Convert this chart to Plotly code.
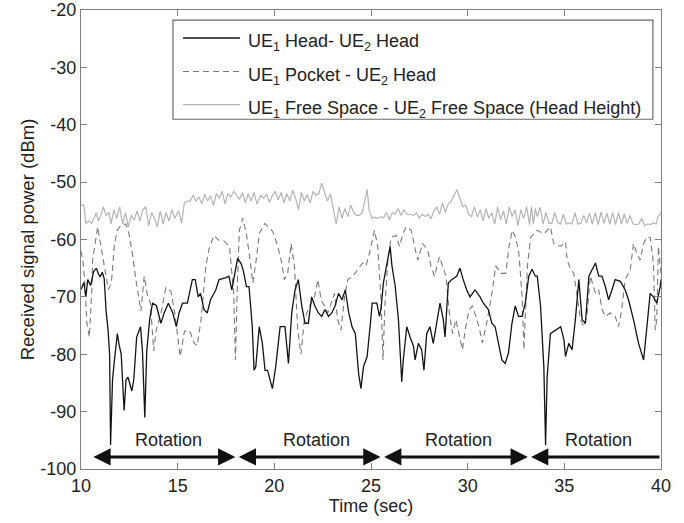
import plotly.graph_objects as go

# ---------------- data ----------------
head = [(10.0,-68.7),(10.15,-67.5),(10.25,-70),(10.35,-67),(10.5,-68),(10.65,-65.6),(10.8,-65),(10.9,-66),
        (11.0,-66.5),(11.1,-65.7),(11.2,-66.8),(11.3,-72.5),(11.4,-75.8),(11.48,-80),(11.53,-95.8),(11.63,-84.5),
        (11.73,-81),(11.88,-76.4),(11.98,-78.5),(12.08,-80),(12.23,-89.8),(12.33,-84.4),(12.43,-84),(12.53,-85.4),
        (12.63,-86.4),(12.73,-84.4),(12.88,-77),(13.08,-75.2),(13.18,-79.5),(13.3,-91),(13.4,-79.5),(13.55,-74),
        (13.7,-71.1),(13.9,-71.5),(14.13,-74.6),(14.3,-72.8),(14.52,-71.1),(14.75,-72.8),(14.93,-75.2),(15.07,-72.8),
        (15.25,-71.1),(15.5,-71.1),(15.76,-67),(15.91,-67),(16.06,-70),(16.18,-69.4),(16.36,-72.2),(16.53,-72.8),
        (16.7,-70.5),(16.97,-68.8),(17.14,-67),(17.47,-66.7),(17.65,-66.4),(17.8,-68.8),(18.0,-64.8),(18.1,-63.3),
        (18.28,-64.2),(18.38,-65.2),(18.56,-68.2),(18.69,-68.2),(18.86,-75.2),(18.95,-82.8),(19.04,-82.2),(19.22,-75.2),
        (19.38,-78.1),(19.52,-82.8),(19.65,-82.8),(19.73,-83.9),(19.9,-86),(20.07,-82.2),(20.3,-75.2),(20.55,-75.2),
        (20.73,-81.6),(20.9,-72.8),(21.07,-68.8),(21.24,-67),(21.42,-71.6),(21.59,-74.6),(21.76,-74.6),(21.93,-70),
        (22.1,-71.6),(22.28,-72.8),(22.45,-73.4),(22.62,-72.2),(22.8,-73.4),(22.97,-72.8),(23.14,-71.6),(23.32,-69.4),
        (23.5,-70.5),(23.67,-68.8),(23.85,-72.8),(24.02,-75.2),(24.19,-76.4),(24.36,-83.4),(24.48,-86),(24.61,-82.2),
        (24.8,-80.4),(24.97,-74.6),(25.06,-71.1),(25.3,-71.1),(25.44,-73.4),(25.52,-72),(25.64,-67.6),(25.82,-64.3),
        (25.99,-61.2),(26.08,-64.5),(26.25,-68.1),(26.42,-74),(26.5,-80.5),(26.59,-84.8),(26.67,-81),(26.85,-75.2),
        (27.02,-77),(27.2,-78.6),(27.28,-81),(27.45,-78.1),(27.62,-79.2),(27.74,-82.8),(27.88,-76.4),(28.05,-75.2),
        (28.22,-78.1),(28.39,-74.6),(28.57,-71.1),(28.74,-74),(28.83,-77),(29.0,-67.6),(29.17,-67),(29.43,-66.4),
        (29.6,-65),(29.77,-67),(29.95,-68.8),(30.12,-70),(30.38,-68.8),(30.64,-70),(30.81,-71.1),(31.07,-72.2),
        (31.25,-74.6),(31.42,-75.2),(31.6,-78.1),(31.77,-81),(31.94,-81.6),(32.11,-79.8),(32.29,-74.6),(32.46,-71.6),
        (32.63,-73.4),(32.81,-73.4),(32.98,-71.1),(33.16,-66.4),(33.33,-65.2),(33.5,-66.4),(33.6,-66.4),(33.77,-71.6),
        (33.94,-82.2),(34.03,-95.8),(34.11,-84),(34.28,-76.4),(34.55,-75.8),(34.81,-75.2),(34.98,-77.5),(35.06,-80.4),
        (35.23,-78.1),(35.4,-79.2),(35.57,-74),(35.75,-67),(35.92,-74),(36.09,-74.6),(36.27,-66.4),(36.44,-65.2),
        (36.61,-64.1),(36.78,-66.4),(36.95,-66.4),(37.12,-68.2),(37.29,-70.5),(37.46,-68.8),(37.63,-67),(37.9,-67.3),
        (38.15,-68.8),(38.32,-70.5),(38.58,-74),(38.84,-78.1),(39.1,-81),(39.27,-75.2),(39.44,-69.4),(39.61,-70),
        (39.78,-71.1),(39.96,-68.2),(40.0,-67)]

pocket = [(10.0,-62),(10.1,-63.6),(10.2,-67.6),(10.3,-74.5),(10.43,-77),(10.55,-69.5),(10.6,-63.6),(10.86,-57.8),
          (11.01,-60.7),(11.21,-64.6),(11.41,-68.7),(11.57,-67.6),(11.72,-61.2),(11.87,-58.4),(12.07,-57.5),(12.32,-57.3),
          (12.47,-58.8),(12.67,-62.7),(12.82,-66.6),(13.1,-72.5),(13.27,-66.4),(13.43,-69.6),(13.59,-71.1),(13.76,-79.4),
          (13.89,-75.8),(14.14,-72.8),(14.39,-68.4),(14.65,-69),(14.85,-72.8),(15.13,-80.4),(15.35,-76),(15.61,-75.8),
          (15.86,-78.1),(16.01,-78.5),(16.21,-74),(16.46,-64.6),(16.62,-61.7),(16.87,-59.3),(17.12,-60.1),(17.37,-60.2),
          (17.68,-61.2),(17.9,-69.6),(17.99,-81),(18.09,-67.6),(18.19,-58.4),(18.37,-56.3),(18.55,-58.9),(18.72,-62.9),
          (18.89,-67.6),(19.06,-63.6),(19.23,-58.9),(19.5,-57.2),(19.75,-58.1),(19.92,-58.6),(20.18,-61.2),(20.35,-63.6),
          (20.52,-67),(20.69,-65.9),(20.87,-60.7),(21.04,-64.6),(21.21,-75.8),(21.38,-80),(21.55,-74),(21.82,-71.6),
          (22.08,-70),(22.25,-67),(22.42,-70.5),(22.59,-71.6),(22.77,-72.8),(22.94,-71.1),(23.11,-69.4),(23.28,-74),
          (23.45,-75.8),(23.63,-70),(23.8,-67),(24.06,-66.4),(24.31,-65.2),(24.57,-64.1),(24.74,-64.6),(24.92,-62.4),
          (25.18,-58.4),(25.35,-61.2),(25.52,-70.5),(25.62,-81),(25.72,-71.5),(25.87,-63.7),(26.04,-59.6),(26.3,-59.3),
          (26.47,-61.2),(26.65,-59),(26.82,-57.8),(27.08,-58.4),(27.25,-61.2),(27.42,-63.6),(27.67,-60.7),(27.93,-61.8),
          (28.1,-64.6),(28.28,-66.4),(28.54,-63),(28.71,-64.6),(28.88,-66.4),(29.05,-72.8),(29.22,-76.4),(29.39,-74),
          (29.56,-76.4),(29.73,-79.2),(29.9,-75.2),(30.08,-72.2),(30.25,-71.6),(30.42,-73.4),(30.59,-75.2),(30.76,-78),
          (31.02,-74),(31.28,-68.8),(31.45,-64.6),(31.71,-65.9),(31.97,-65.9),(32.14,-61.2),(32.31,-58.4),(32.48,-59.6),
          (32.65,-62.4),(32.82,-70),(32.91,-79.2),(33.09,-64.6),(33.26,-59.6),(33.6,-58.4),(33.94,-59),(34.28,-57.8),
          (34.45,-60.7),(34.81,-61.2),(35.06,-60.4),(35.15,-63.6),(35.32,-65.2),(35.49,-65.9),(35.84,-74),(36.01,-75.2),
          (36.18,-72.8),(36.35,-66.4),(36.61,-69.4),(36.78,-68.8),(36.95,-72.2),(37.12,-73.4),(37.38,-72.8),(37.63,-73.4),
          (37.8,-75.2),(37.97,-72.2),(38.15,-67),(38.41,-65.2),(38.58,-60.7),(38.75,-62.4),(38.92,-63.6),(39.1,-60.7),
          (39.27,-59.6),(39.44,-59.6),(39.61,-64.1),(39.7,-75.8),(39.78,-74),(39.87,-61.2),(40.0,-66)]

free = [(10.0,-54),(10.15,-54),(10.25,-57.2),(10.4,-56.8),(10.55,-57.2),(10.65,-56.3),(10.8,-55.3),(10.9,-56.8),
        (11.05,-55.6),(11.15,-54.3),(11.3,-55.8),(11.45,-55.3),(11.55,-57.3),(11.7,-54.8),(11.85,-56.3),(12.0,-54.3),
        (12.15,-57.3),(12.3,-55.3),(12.45,-57.8),(12.6,-55.8),(12.75,-56.6),(12.9,-55),(13.05,-56.8),(13.2,-54.8),
        (13.35,-54.3),(13.5,-57.6),(13.65,-55.3),(13.8,-56.3),(13.95,-57.8),(14.1,-55),(14.25,-57.3),(14.4,-55.3),
        (14.55,-56.8),(14.7,-54.8),(14.85,-56.3),(15.05,-55),(15.2,-57.1),(15.35,-53.6),(15.5,-53.3),(15.65,-53.3),
        (15.8,-52.3),(15.95,-53.3),(16.1,-52.6),(16.25,-53.8),(16.4,-52.1),(16.55,-53.3),(16.7,-52.4),(16.85,-54.1),
        (17.0,-52),(17.15,-52.8),(17.3,-51.6),(17.45,-53.8),(17.6,-52),(17.75,-52.6),(17.9,-51.6),(18.05,-52.3),
        (18.2,-53),(18.35,-51.8),(18.5,-53.6),(18.65,-52),(18.8,-53.3),(18.95,-51.8),(19.1,-53.8),(19.3,-52.3),
        (19.45,-52.8),(19.6,-52.1),(19.75,-53.5),(19.9,-52.3),(20.05,-51.6),(20.2,-53.1),(20.35,-51.8),(20.5,-53.6),
        (20.65,-52),(20.8,-53.3),(20.95,-51.4),(21.1,-52.8),(21.25,-54.8),(21.4,-51.8),(21.55,-53.3),(21.7,-52.2),
        (21.85,-53.6),(22.0,-51.6),(22.15,-52.3),(22.3,-52),(22.45,-50.2),(22.6,-51.8),(22.75,-53.3),(22.9,-52),
        (23.05,-54.8),(23.2,-57.3),(23.35,-54.3),(23.5,-56.3),(23.65,-54.6),(23.8,-56),(23.95,-54),(24.1,-55.3),
        (24.25,-55.8),(24.4,-55.8),(24.55,-55.3),(24.7,-52.8),(24.8,-51.3),(24.9,-54.8),(25.05,-56.3),(25.2,-56.1),
        (25.35,-56.3),(25.5,-56),(25.65,-56.2),(25.8,-55.3),(25.95,-56.6),(26.1,-55.3),(26.25,-55.6),(26.4,-54.6),
        (26.55,-55.8),(26.7,-54.8),(26.85,-55.6),(27.0,-55.6),(27.2,-55.8),(27.35,-55.4),(27.5,-56.2),(27.65,-55.6),
        (27.8,-56),(27.95,-55.6),(28.1,-56.4),(28.25,-55.1),(28.4,-54.3),(28.55,-55.6),(28.7,-53.6),(28.85,-55.3),
        (29.0,-53.8),(29.15,-53.3),(29.3,-52.3),(29.45,-51.3),(29.6,-52.8),(29.75,-54.3),(29.9,-54),(30.05,-55.6),
        (30.2,-56),(30.35,-54.3),(30.5,-56.1),(30.65,-54.8),(30.8,-56.8),(30.95,-54.6),(31.1,-56.3),(31.25,-55.3),
        (31.4,-57.3),(31.55,-54.3),(31.7,-56.6),(31.85,-55),(32.0,-57.3),(32.15,-54.3),(32.3,-56),(32.45,-54.8),
        (32.6,-57.6),(32.75,-54.8),(32.9,-56.3),(33.05,-54.3),(33.2,-57.4),(33.3,-54.3),(33.4,-57.3),(33.5,-54.6),
        (33.6,-56),(33.75,-54.4),(33.9,-57.3),(34.05,-55.3),(34.2,-57.1),(34.35,-57.2),(34.5,-55.3),(34.65,-57),
        (34.8,-57.3),(34.95,-55.6),(35.1,-57.3),(35.25,-57.1),(35.4,-57.3),(35.55,-55.3),(35.7,-57.3),(35.85,-57.2),
        (36.0,-55.8),(36.15,-57.1),(36.3,-55.4),(36.45,-57.3),(36.6,-55.3),(36.75,-57.4),(36.9,-55.2),(37.05,-57.2),
        (37.2,-55.4),(37.35,-57.3),(37.5,-55.3),(37.65,-57.4),(37.8,-55.3),(37.95,-57.3),(38.1,-55.6),(38.25,-57.2),
        (38.4,-55.8),(38.55,-57.3),(38.7,-57.4),(38.85,-57.3),(39.0,-56.3),(39.15,-57.6),(39.3,-57.3),(39.45,-57.4),
        (39.6,-57.1),(39.75,-57.3),(39.85,-56),(40.0,-55.3)]

series_names = ["UE<sub>1</sub> Head- UE<sub>2</sub> Head",
                "UE<sub>1</sub> Pocket - UE<sub>2</sub> Head",
                "UE<sub>1</sub> Free Space - UE<sub>2</sub> Free Space (Head Height)"]

# rotation periods (start, end) in seconds; last one runs to the axis end
rotation_spans = [(10.64, 18.06), (18.16, 25.57), (25.68, 33.19), (33.28, 40.0)]
rotation_label_x = [14.5, 22.2, 29.5, 36.75]
arrow_level = -97.9
label_level = -94.9

x_ticks = [10, 15, 20, 25, 30, 35, 40]
y_ticks = [-100, -90, -80, -70, -60, -50, -40, -30, -20]

# ---------------- figure ----------------
FONT = "Arial, Liberation Sans, sans-serif"
FS = 18
styles = [dict(color="#141414", width=1.3),
          dict(color="#7a7a7a", width=1.1, dash="6px,4px"),
          dict(color="#b4b4b4", width=1.2)]

fig = go.Figure()
for data, name, st in zip([free, pocket, head], [series_names[2], series_names[1], series_names[0]],
                          [styles[2], styles[1], styles[0]]):
    fig.add_trace(go.Scatter(x=[p[0] for p in data], y=[p[1] for p in data], mode="lines",
                             name=name, line=st, showlegend=False))

annotations = []
# Rotation arrows
for i, (a, b) in enumerate(rotation_spans):
    last = i == len(rotation_spans) - 1
    annotations.append(dict(x=a, y=arrow_level, ax=b, ay=arrow_level, xref="x", yref="y",
                            axref="x", ayref="y", text="", showarrow=True,
                            arrowhead=2, arrowsize=1.15, arrowwidth=3, arrowcolor="#111111",
                            startarrowhead=2, startarrowsize=1.15,
                            arrowside="end" if last else "end+start"))
for lx in rotation_label_x:
    annotations.append(dict(x=lx, y=label_level, xref="x", yref="y", text="Rotation",
                            showarrow=False, font=dict(size=FS, color="#222222", family=FONT)))

# Manual legend (paper coordinates)
leg_rows = [0.939, 0.866, 0.794]
shapes = [dict(type="rect", xref="paper", yref="paper", x0=0.1586, x1=0.986, y0=0.762, y1=0.978,
               line=dict(color="#6a6a6a", width=1.2), fillcolor="white", layer="above")]
for yy, st in zip(leg_rows, styles):
    shapes.append(dict(type="line", xref="paper", yref="paper", x0=0.176, x1=0.274, y0=yy, y1=yy,
                       line=st, layer="above"))
for yy, nm in zip(leg_rows, series_names):
    annotations.append(dict(x=0.284, y=yy - 0.010, xref="paper", yref="paper", text=nm, showarrow=False,
                            xanchor="left", yanchor="middle",
                            font=dict(size=FS, color="#222222", family=FONT)))

axis_common = dict(showline=True, linecolor="#808080", linewidth=1.2, mirror="ticks",
                   ticks="inside", ticklen=6, tickcolor="#808080", showgrid=False, zeroline=False,
                   automargin=False,
                   tickfont=dict(size=FS, color="#222222", family=FONT))

fig.update_layout(
    width=684, height=523,
    margin=dict(l=81, r=23, t=10, b=54),
    paper_bgcolor="white", plot_bgcolor="white",
    font=dict(family=FONT, size=FS, color="#222222"),
    xaxis=dict(range=[10, 40], tickvals=x_ticks, ticktext=[str(v) for v in x_ticks],
               title=dict(text="Time (sec)", font=dict(size=FS, family=FONT, color="#222222"), standoff=2),
               **axis_common),
    yaxis=dict(range=[-100, -20], tickvals=y_ticks, ticktext=[str(v) for v in y_ticks],
               title=dict(text="Received signal power (dBm)", font=dict(size=18.5, family=FONT, color="#222222"),
                          standoff=0),
               **axis_common),
    annotations=annotations,
    shapes=shapes,
)

# remove the browser's default 8px page margin so the figure sits at the window origin
fig.write_html("out.html", config={"displayModeBar": False},
               post_script="document.body.style.margin='0px';")
